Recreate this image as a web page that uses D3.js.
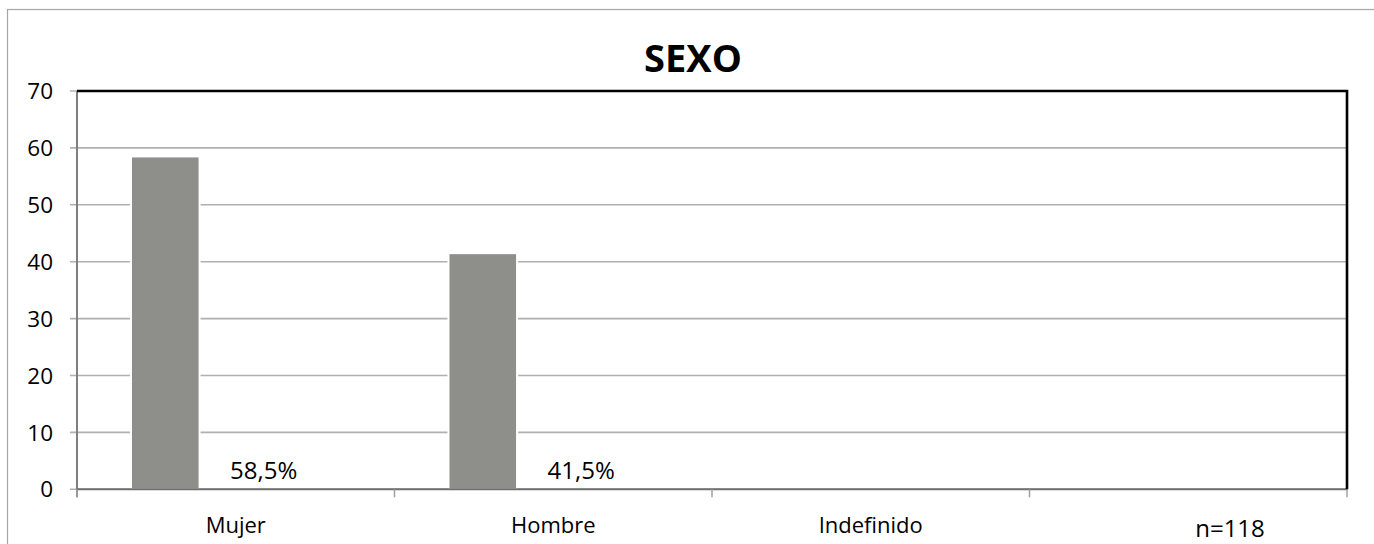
<!DOCTYPE html>
<html>
<head>
<meta charset="utf-8">
<script src="https://cdn.jsdelivr.net/npm/d3@7"></script>
<style>
  html, body { margin: 0; padding: 0; background: #fff; }
  svg { display: block; font-family: "Open Sans", "Noto Sans", sans-serif; }
</style>
</head>
<body>
<div id="chart"></div>
<script>
// Chart data
const categories = ["Mujer", "Hombre", "Indefinido", ""];
const values = [58.5, 41.5, 0, 0];
const pctLabels = ["58,5%", "41,5%", "", ""];
const yTicks = [0, 10, 20, 30, 40, 50, 60, 70];
const chartTitle = "SEXO";
const sampleNote = "n=118";

const width = 1374;
const height = 544;
const margin = { top: 91, right: 27, bottom: 55, left: 77 };

const svg = d3.select("#chart")
  .append("svg")
  .attr("width", width)
  .attr("height", height);

// Outer chart frame
svg.append("rect")
  .attr("x", 7.5)
  .attr("y", 9.5)
  .attr("width", width + 20)
  .attr("height", height + 20)
  .attr("fill", "none")
  .attr("stroke", "#a6a6a6")
  .attr("stroke-width", 1.2);

const x = d3.scaleBand()
  .domain(categories)
  .range([margin.left, width - margin.right])
  .padding(0);

const y = d3.scaleLinear()
  .domain([0, 70])
  .range([height - margin.bottom + 0.3, margin.top]);

const bw = x.bandwidth();

// Gridlines
svg.append("g")
  .selectAll("line")
  .data(yTicks)
  .enter()
  .append("line")
  .attr("x1", margin.left - 7)
  .attr("x2", width - margin.right)
  .attr("y1", d => y(d))
  .attr("y2", d => y(d))
  .attr("stroke", "#b0b0b0")
  .attr("stroke-width", 1.6);

// Bars (white outline cuts the gridlines like the original)
svg.append("g")
  .selectAll("rect")
  .data(categories.map((c, i) => ({ c, v: values[i] })).filter(d => d.v > 0))
  .enter()
  .append("rect")
  .attr("x", d => x(d.c) + bw * 0.17)
  .attr("width", bw * 0.216)
  .attr("y", d => y(d.v))
  .attr("height", d => y(0) - y(d.v))
  .attr("fill", "#8e8f8a")
  .attr("stroke", "#ffffff")
  .attr("stroke-width", 2);

// Y axis labels
svg.append("g")
  .selectAll("text")
  .data(yTicks)
  .enter()
  .append("text")
  .attr("x", 53)
  .attr("y", d => y(d))
  .attr("dy", "0.36em")
  .attr("text-anchor", "end")
  .style("font-size", "22.5px")
  .style("fill", "#000")
  .text(d => d);

// Axis lines
svg.append("line")
  .attr("x1", margin.left).attr("x2", margin.left)
  .attr("y1", margin.top).attr("y2", y(0) + 8)
  .attr("stroke", "#7f7f7f").attr("stroke-width", 2);

svg.append("line")
  .attr("x1", margin.left).attr("x2", width - margin.right)
  .attr("y1", y(0)).attr("y2", y(0))
  .attr("stroke", "#6f6f6f").attr("stroke-width", 2);

// Category boundary ticks
const bounds = categories.map(c => x(c)).concat([x.range()[1]]);
svg.append("g")
  .selectAll("line")
  .data(bounds)
  .enter()
  .append("line")
  .attr("x1", d => d).attr("x2", d => d)
  .attr("y1", y(0)).attr("y2", y(0) + 8)
  .attr("stroke", "#a0a0a0").attr("stroke-width", 1.5);

// Top and right plot borders (black)
svg.append("path")
  .attr("d", `M${margin.left},${margin.top}H${width - margin.right}V${y(0)}`)
  .attr("fill", "none")
  .attr("stroke", "#000")
  .attr("stroke-width", 2.6);

// Category labels
svg.append("g")
  .selectAll("text")
  .data(categories)
  .enter()
  .append("text")
  .attr("x", d => x(d) + bw / 2)
  .attr("y", 533)
  .attr("text-anchor", "middle")
  .style("font-size", "22px")
  .style("fill", "#000")
  .text(d => d);

// Percentage labels
svg.append("g")
  .selectAll("text")
  .data(categories.map((c, i) => ({ c, t: pctLabels[i] })).filter(d => d.t))
  .enter()
  .append("text")
  .attr("x", d => x(d.c) + bw * 0.482)
  .attr("y", 479)
  .style("font-size", "24px")
  .style("fill", "#000")
  .text(d => d.t);

// Title
svg.append("text")
  .attr("x", 693)
  .attr("y", 71.5)
  .attr("text-anchor", "middle")
  .style("font-size", "38px")
  .style("font-weight", "bold")
  .style("fill", "#000")
  .text(chartTitle);

// Sample size note
svg.append("text")
  .attr("x", 1230)
  .attr("y", 537)
  .attr("text-anchor", "middle")
  .style("font-size", "24px")
  .style("fill", "#000")
  .text(sampleNote);
</script>
</body>
</html>
